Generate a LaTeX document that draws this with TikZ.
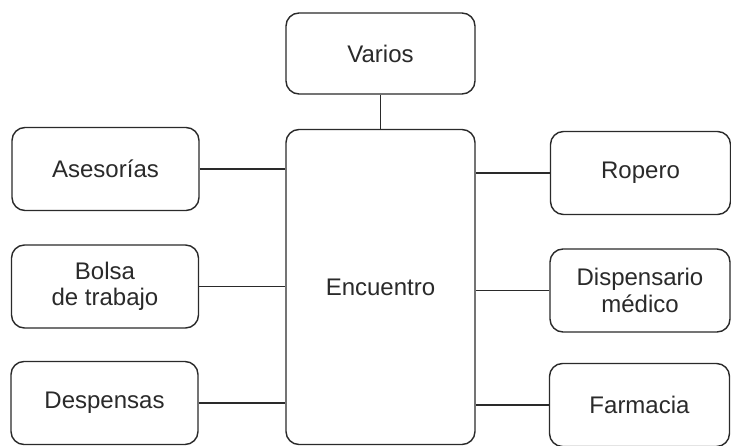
\documentclass[tikz,border=0pt]{standalone}
\usepackage{fontspec}
\setmainfont{Liberation Sans}
\usetikzlibrary{positioning}
\definecolor{inkGray}{HTML}{2A2A2A}
\tikzset{
  font=\fontsize{24}{26.5}\selectfont,
  link/.style={draw=inkGray,line width=1.4pt},
  item/.style={rectangle,rounded corners=13pt,draw=inkGray,line width=1.4pt,fill=white,
    text=inkGray,minimum width=187pt,minimum height=83pt,align=center,inner sep=0pt},
  itemR/.style={item,minimum width=180pt},
  hub/.style={item,minimum width=189pt,minimum height=315pt},
}
\begin{document}
\begin{tikzpicture}[x=1pt,y=-1pt]

\useasboundingbox (0,0) rectangle (731,446);

\node[item,minimum width=189pt,minimum height=81pt] (varios) at (380.5,53.5) {Varios};
\node[hub] (encuentro) at (380.5,287) {Encuentro};

\node[item] (asesorias) at (105.5,169)   {Asesorías};
\node[item] (bolsa)     at (105,286.5)   {Bolsa\\de trabajo};
\node[item] (despensas) at (104.5,403)   {Despensas};

\node[itemR] (ropero)      at (640.5,173)   {Ropero};
\node[itemR] (dispensario) at (640,290.5)   {Dispensario\\médico};
\node[itemR] (farmacia)    at (639.5,405)   {Farmacia};

\draw[link] (varios.south) -- (encuentro.north);

\draw[link] (asesorias.east) -- (asesorias.east -| encuentro.west);
\draw[link] (bolsa.east)     -- (bolsa.east -| encuentro.west);
\draw[link] (despensas.east) -- (despensas.east -| encuentro.west);

\draw[link] (ropero.west)      -- (ropero.west -| encuentro.east);
\draw[link] (dispensario.west) -- (dispensario.west -| encuentro.east);
\draw[link] (farmacia.west)    -- (farmacia.west -| encuentro.east);

\end{tikzpicture}
\end{document}
